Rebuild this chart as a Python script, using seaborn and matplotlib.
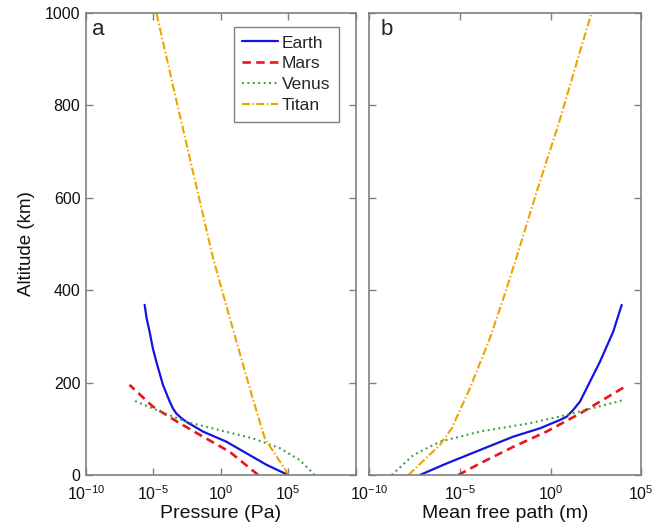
import numpy as np
import matplotlib
matplotlib.use("Agg")
import matplotlib.pyplot as plt
import seaborn as sns

# ---------------- data (log10 values) ----------------
# Panel a: pressure (Pa)
earth_alt_a = [0, 22, 47, 72, 94, 115, 123, 133, 144, 159, 195, 245, 274, 310, 339, 368]
earth_logp = [5.0, 3.40, 1.91, 0.42, -1.32, -2.55, -2.92, -3.30, -3.55, -3.79, -4.29, -4.78,
              -5.04, -5.28, -5.50, -5.65]
mars_alt_a = [0, 50, 83, 112, 148, 195]
mars_logp = [2.78, 0.67, -1.32, -3.05, -5.04, -6.77]
venus_alt_a = [0, 32, 58, 79, 97, 115, 144, 162]
venus_logp = [6.97, 5.88, 4.39, 2.40, -0.07, -2.55, -5.04, -6.53]
titan_alt_a = [0, 79, 173, 288, 469, 811, 1000]
titan_logp = [5.05, 3.27, 2.30, 1.17, -0.57, -3.30, -4.78]

# Panel b: mean free path (m)
earth_alt_b = [0, 25, 54, 83, 101, 119, 126, 141, 159, 188, 245, 310, 368]
earth_logl = [-7.21, -5.74, -3.90, -2.06, -0.59, 0.51, 0.88, 1.25, 1.62, 1.99, 2.72, 3.45, 3.92]
mars_alt_b = [0, 25, 61, 94, 133, 191]
mars_logl = [-5.10, -3.90, -2.06, -0.22, 1.62, 4.10]
venus_alt_b = [0, 43, 72, 94, 112, 130, 162]
venus_logl = [-8.77, -7.58, -6.11, -3.90, -1.14, 0.88, 4.00]
titan_alt_b = [0, 65, 101, 188, 296, 389, 469, 624, 761, 898, 1000]
titan_logl = [-7.85, -6.11, -5.46, -4.45, -3.35, -2.55, -1.90, -0.68, 0.45, 1.48, 2.26]

planets = ["Earth", "Mars", "Venus", "Titan"]
colors = {"Earth": "#1414E0", "Mars": "#E8161C", "Venus": "#3C9C3C", "Titan": "#ECA400"}
widths = {"Earth": 1.6, "Mars": 1.9, "Venus": 1.5, "Titan": 1.5}
dash_patterns = {"Earth": None, "Mars": (3.2, 2.0), "Venus": (0.9, 1.7), "Titan": (3.8, 1.2, 0.7, 1.2)}

alt_ticks = [0, 200, 400, 600, 800, 1000]
pa_ticks_exp = [-10, -5, 0, 5, 10]
mfp_ticks_exp = [-10, -5, 0, 5]

panel_a = {
    "Earth": (earth_logp, earth_alt_a),
    "Mars": (mars_logp, mars_alt_a),
    "Venus": (venus_logp, venus_alt_a),
    "Titan": (titan_logp, titan_alt_a),
}
panel_b = {
    "Earth": (earth_logl, earth_alt_b),
    "Mars": (mars_logl, mars_alt_b),
    "Venus": (venus_logl, venus_alt_b),
    "Titan": (titan_logl, titan_alt_b),
}

# ---------------- style ----------------
sns.set_style("ticks")
plt.rcParams["font.family"] = ["Liberation Sans", "DejaVu Sans"]
plt.rcParams["mathtext.fontset"] = "custom"
plt.rcParams["mathtext.rm"] = "Liberation Sans"
plt.rcParams["mathtext.default"] = "regular"

W, H = 670, 528
fig = plt.figure(figsize=(W / 100, H / 100), dpi=100)
fig.patch.set_facecolor("white")

top_px, bot_px = 12.7, 475.0
ax_a = fig.add_axes([86 / W, 1 - bot_px / H, (355.5 - 86) / W, (bot_px - top_px) / H])
ax_b = fig.add_axes([369.4 / W, 1 - bot_px / H, (641.3 - 369.4) / W, (bot_px - top_px) / H])

spine_col = "#808080"


def draw(ax, data, with_label):
    for name in planets:
        xs, ys = data[name]
        sns.lineplot(x=10.0 ** np.asarray(xs), y=ys, ax=ax, sort=False, estimator=None,
                     color=colors[name], lw=widths[name],
                     label=name if with_label else None, legend=False)
        line = ax.lines[-1]
        if dash_patterns[name] is not None:
            line.set_dashes(dash_patterns[name])
        line.set_dash_capstyle("butt")
        line.set_solid_joinstyle("round")


def style_axes(ax, xexp, xlim_exp, show_ylabels, hide_last_xlabel=False):
    ax.set_facecolor("white")
    ax.set_xscale("log")
    ax.set_xlim(10.0 ** xlim_exp[0], 10.0 ** xlim_exp[1])
    ax.set_ylim(0, 1000)
    ax.set_xticks([10.0 ** e for e in xexp])
    labels = [f"$10^{{{e}}}$" for e in xexp]
    if hide_last_xlabel:
        labels[-1] = ""
    ax.set_xticklabels(labels)
    ax.xaxis.set_minor_locator(matplotlib.ticker.NullLocator())
    ax.set_yticks(alt_ticks)
    if show_ylabels:
        ax.set_yticklabels([str(t) for t in alt_ticks])
    else:
        ax.set_yticklabels([])
    for s in ax.spines.values():
        s.set_visible(True)
        s.set_color(spine_col)
        s.set_linewidth(1.2)
    ax.tick_params(axis="both", which="both", direction="in", length=5, width=1.0,
                   color=spine_col, top=True, right=True, labelsize=11.5,
                   labelcolor="#111111")
    ax.tick_params(axis="x", pad=7)
    ax.tick_params(axis="y", pad=4)


draw(ax_a, panel_a, True)
draw(ax_b, panel_b, False)
style_axes(ax_a, pa_ticks_exp, (-10, 10), True, hide_last_xlabel=True)
style_axes(ax_b, mfp_ticks_exp, (-10, 5), False)

ax_a.set_xlabel("Pressure (Pa)", fontsize=14, color="#111111")
ax_b.set_xlabel("Mean free path (m)", fontsize=14, color="#111111")
ax_a.set_ylabel("Altitude (km)", fontsize=13.5, color="#111111")
ax_a.xaxis.set_label_coords(0.5, -0.064)
ax_b.xaxis.set_label_coords(0.5, -0.064)
ax_a.yaxis.set_label_coords(-0.19, 0.5)

ax_a.text(0.024, 0.952, "a", transform=ax_a.transAxes, fontsize=16, va="baseline", ha="left")
ax_b.text(0.042, 0.952, "b", transform=ax_b.transAxes, fontsize=16, va="baseline", ha="left")

leg = ax_a.legend(loc="upper right",
                  bbox_to_anchor=((339.3 - 86) / (355.5 - 86), (bot_px - 26.7) / (bot_px - top_px)),
                  borderaxespad=0, fontsize=12.5, frameon=True, fancybox=False, framealpha=1,
                  edgecolor=spine_col, handlelength=2.05, handletextpad=0.25, labelspacing=0.33,
                  borderpad=0.5)
leg.get_frame().set_linewidth(1.0)

fig.savefig("out.png", dpi=100, facecolor="white")
